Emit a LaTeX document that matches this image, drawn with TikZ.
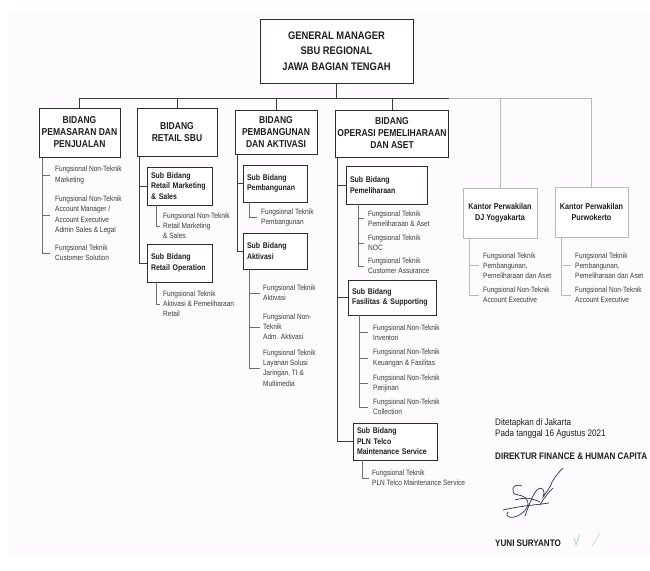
\documentclass[tikz,border=0pt]{standalone}
\usepackage{fontspec}
\setmainfont[FakeStretch=0.85]{Liberation Sans}
\definecolor{boxc}{RGB}{45,45,45}
\definecolor{linec}{RGB}{60,60,60}
\definecolor{slc}{RGB}{110,110,110}
\definecolor{kc}{RGB}{185,185,185}
\definecolor{txtc}{RGB}{30,30,30}
\definecolor{ftxt}{RGB}{60,60,60}
\definecolor{sigc}{RGB}{45,50,75}
\definecolor{bgc}{RGB}{253,251,253}
\tikzset{
 gmbox/.style={draw=boxc, line width=1pt, fill=white, font=\fontsize{11}{15.5}\selectfont\bfseries, align=center, text=txtc},
 bid/.style={draw=boxc, line width=1pt, fill=white, font=\fontsize{10}{12}\selectfont\bfseries, align=center, inner sep=1pt, text=txtc},
 subbox/.style={draw=boxc, line width=0.9pt, fill=white, font=\fontsize{8.2}{10.5}\selectfont\bfseries, align=left, inner xsep=4pt, inner ysep=2pt, text=txtc},
 kbox/.style={draw=kc, line width=0.8pt, fill=white, font=\fontsize{8.5}{11}\selectfont\bfseries, align=center, text=txtc},
 fung/.style={font=\fontsize{7.7}{10.2}\selectfont, align=left, anchor=west, inner sep=0pt, text=ftxt},
 busline/.style={draw=linec, line width=0.9pt},
 sbus/.style={draw=slc, line width=0.6pt},
 kbus/.style={draw=kc, line width=0.7pt},
 sig/.style={draw=sigc, line width=0.7pt, line cap=round},
 sigtext/.style={font=\fontsize{9.5}{11}\selectfont, anchor=west, inner sep=0pt, text=txtc},
}
\begin{document}
\begin{tikzpicture}[x=1pt,y=-1pt]
\useasboundingbox (0,0) rectangle (650,570);
\fill[bgc] (8,12) rectangle (650,556);

% top
\node[gmbox, minimum width=153pt, minimum height=64pt] (gm) at (336.5,51) {GENERAL MANAGER\\SBU REGIONAL\\JAWA BAGIAN TENGAH};

% bidang boxes
\node[bid, minimum width=81pt, minimum height=49pt] (b1) at (79.5,132.5) {BIDANG\\PEMASARAN DAN\\PENJUALAN};
\node[bid, minimum width=80pt, minimum height=48pt] (b2) at (177,132) {BIDANG\\RETAIL SBU};
\node[bid, minimum width=82pt, minimum height=44pt] (b3) at (276,132) {BIDANG\\PEMBANGUNAN\\DAN AKTIVASI};
\node[bid, minimum width=113pt, minimum height=47pt] (b4) at (392,133.5) {BIDANG\\OPERASI PEMELIHARAAN\\DAN ASET};
\node[kbox, minimum width=74pt, minimum height=50pt] (k1) at (500,213) {Kantor Perwakilan\\DJ Yogyakarta};
\node[kbox, minimum width=73pt, minimum height=50pt] (k2) at (591.5,212) {Kantor Perwakilan\\Purwokerto};

% bus
\coordinate (busy) at (0,98);
\draw[busline] (gm.south) -- (gm.south |- busy);
\draw[busline] (b1.north) |- (b4.north east |- busy);
\draw[busline] (b2.north) -- (b2.north |- busy);
\draw[busline] (b3.north) -- (b3.north |- busy);
\draw[busline] (b4.north) -- (b4.north |- busy);
\draw[kbus] (b4.north east |- busy) -| (k2.north);
\draw[kbus] (k1.north) -- (k1.north |- busy);

% column 1
\node[fung] (f11) at (55,175) {Fungsional Non-Teknik\\Marketing};
\node[fung] (f12) at (55,215) {Fungsional Non-Teknik\\Account Manager /\\Account Executive\\Admin Sales \& Legal};
\node[fung] (f13) at (55,253) {Fungsional Teknik\\Customer Solution};
\coordinate (c1) at ([xshift=4pt]b1.south west);
\draw[sbus] (c1) |- ([xshift=-5pt]f13.west);
\draw[sbus] (c1 |- f11.west) -- ([xshift=-5pt]f11.west);
\draw[sbus] (c1 |- f12.west) -- ([xshift=-5pt]f12.west);

% column 2
\node[subbox, text width=57pt, minimum height=38pt] (s21) at (179.5,186) {Sub Bidang\\Retail Marketing\\\& Sales};
\node[subbox, text width=57pt, minimum height=38pt] (s22) at (179.5,263) {Sub Bidang\\Retail Operation};
\node[fung] (f21) at (163,226) {Fungsional Non-Teknik\\Retail Marketing\\\& Sales};
\node[fung] (f22) at (163,304) {Fungsional Teknik\\Aktivasi \& Pemeliharaan\\Retail};
\coordinate (c2) at ([xshift=3pt]b2.south west);
\draw[busline] (c2) |- (s22.west);
\draw[busline] (c2 |- s21.west) -- (s21.west);
\coordinate (c21) at ([xshift=10pt]s21.south west);
\draw[sbus] (c21) |- ([xshift=-3pt]f21.west);
\coordinate (c22) at ([xshift=10pt]s22.south west);
\draw[sbus] (c22) |- ([xshift=-3pt]f22.west);

% column 3
\node[subbox, text width=56pt, minimum height=37pt] (s31) at (275,183.5) {Sub Bidang\\Pembangunan};
\node[subbox, text width=56pt, minimum height=36pt] (s32) at (275,251) {Sub Bidang\\Aktivasi};
\node[fung] (f31) at (261,217.5) {Fungsional Teknik\\Pembangunan};
\node[fung] (f32) at (263,293) {Fungsional Teknik\\Aktivasi};
\node[fung] (f33) at (263,327) {Fungsional Non-\\Teknik\\Adm. Aktivasi};
\node[fung] (f34) at (263,368) {Fungsional Teknik\\Layanan Solusi\\Jaringan, TI \&\\Multimedia};
\coordinate (c3) at ([xshift=3pt]b3.south west);
\draw[busline] (c3) |- (s32.west);
\draw[busline] (c3 |- s31.west) -- (s31.west);
\coordinate (c31) at ([xshift=7pt]s31.south west);
\draw[sbus] (c31) |- ([xshift=-4pt]f31.west);
\coordinate (c32) at ([xshift=7pt]s32.south west);
\draw[sbus] (c32) |- ([xshift=-3pt]f34.west);
\draw[sbus] (c32 |- f32.west) -- ([xshift=-3pt]f32.west);
\draw[sbus] (c32 |- f33.west) -- ([xshift=-3pt]f33.west);

% column 4
\node[subbox, text width=73pt, minimum height=38pt] (s41) at (386.5,185) {Sub Bidang\\Pemeliharaan};
\node[subbox, text width=80pt, minimum height=35pt] (s42) at (392,297.5) {Sub Bidang\\Fasilitas \& Supporting};
\node[subbox, text width=76pt, minimum height=37pt] (s43) at (395,441.5) {Sub Bidang\\PLN Telco\\Maintenance Service};
\node[fung] (f41) at (368,218.5) {Fungsional Teknik\\Pemeliharaan \& Aset};
\node[fung] (f42) at (368,243) {Fungsional Teknik\\NOC};
\node[fung] (f43) at (368,266) {Fungsional Teknik\\Customer Assurance};
\node[fung] (f44) at (373,332.5) {Fungsional Non-Teknik\\Inventori};
\node[fung] (f45) at (373,358) {Fungsional Non-Teknik\\Keuangan \& Fasilitas};
\node[fung] (f46) at (373,383.5) {Fungsional Non-Teknik\\Perijinan};
\node[fung] (f47) at (373,407) {Fungsional Non-Teknik\\Collection};
\node[fung] (f48) at (372,478) {Fungsional Teknik\\PLN Telco Maintenance Service};
\coordinate (c4) at ([xshift=2pt]b4.south west);
\draw[busline] (c4) |- (s43.west);
\draw[busline] (c4 |- s41.west) -- (s41.west);
\draw[busline] (c4 |- s42.west) -- (s42.west);
\coordinate (c41) at ([xshift=13pt]s41.south west);
\draw[sbus] (c41) |- ([xshift=-4pt]f43.west);
\draw[sbus] (c41 |- f41.west) -- ([xshift=-4pt]f41.west);
\draw[sbus] (c41 |- f42.west) -- ([xshift=-4pt]f42.west);
\coordinate (c42) at ([xshift=12pt]s42.south west);
\draw[sbus] (c42) |- ([xshift=-5pt]f47.west);
\draw[sbus] (c42 |- f44.west) -- ([xshift=-5pt]f44.west);
\draw[sbus] (c42 |- f45.west) -- ([xshift=-5pt]f45.west);
\draw[sbus] (c42 |- f46.west) -- ([xshift=-5pt]f46.west);
\coordinate (c43) at ([xshift=10pt]s43.south west);
\draw[sbus] (c43) |- ([xshift=-3pt]f48.west);

% kantor
\node[fung] (fk11) at (483,265.5) {Fungsional Teknik\\Pembangunan,\\Pemeliharaan dan Aset};
\node[fung] (fk12) at (483,295) {Fungsional Non-Teknik\\Account Executive};
\node[fung] (fk21) at (575,265.5) {Fungsional Teknik\\Pembangunan,\\Pemeliharaan dan Aset};
\node[fung] (fk22) at (575,295) {Fungsional Non-Teknik\\Account Executive};
\coordinate (ck1) at ([xshift=7pt]k1.south west);
\draw[kbus] (ck1) |- ([xshift=-4pt]fk12.west);
\draw[kbus] (ck1 |- fk11.west) -- ([xshift=-4pt]fk11.west);
\coordinate (ck2) at ([xshift=7pt]k2.south west);
\draw[kbus] (ck2) |- ([xshift=-4pt]fk22.west);
\draw[kbus] (ck2 |- fk21.west) -- ([xshift=-4pt]fk21.west);

% signature block
\node[sigtext] (d1) at (495,423) {Ditetapkan di Jakarta};
\node[sigtext] (d2) at (495,434.5) {Pada tanggal 16 Agustus 2021};
\node[sigtext, font=\fontsize{9.5}{11}\selectfont\bfseries] (d3) at (495,456) {DIREKTUR FINANCE \& HUMAN CAPITA};
\node[sigtext, font=\fontsize{9.5}{11}\selectfont\bfseries] (d4) at (495,543) {YUNI SURYANTO};
\draw[sig] (522,486) .. controls (512,482) and (509,494) .. (518,495) .. controls (528,496) and (533,505) .. (521,514) .. controls (512,520) and (504,517) .. (508,512);
\draw[sig] (503,510) .. controls (520,506) and (535,505) .. (549,503);
\draw[sig] (525,516) .. controls (530,502) and (534,492) .. (538,489) .. controls (542,486) and (546,491) .. (543,497) .. controls (548,490) and (551,486) .. (552,482) .. controls (555,477) and (558,473) .. (563,468);
\draw[sig] (540,505) .. controls (545,496) and (550,491) .. (553,488);
\draw[sig] (515,500) .. controls (525,497) and (532,498) .. (540,502);
\draw[color=green!35!gray!45, line width=0.8pt] (574,537) -- (576,545) -- (580,534);
\draw[color=gray!35, line width=0.7pt] (592,546) .. controls (596,540) and (598,536) .. (600,533);
\end{tikzpicture}
\end{document}
